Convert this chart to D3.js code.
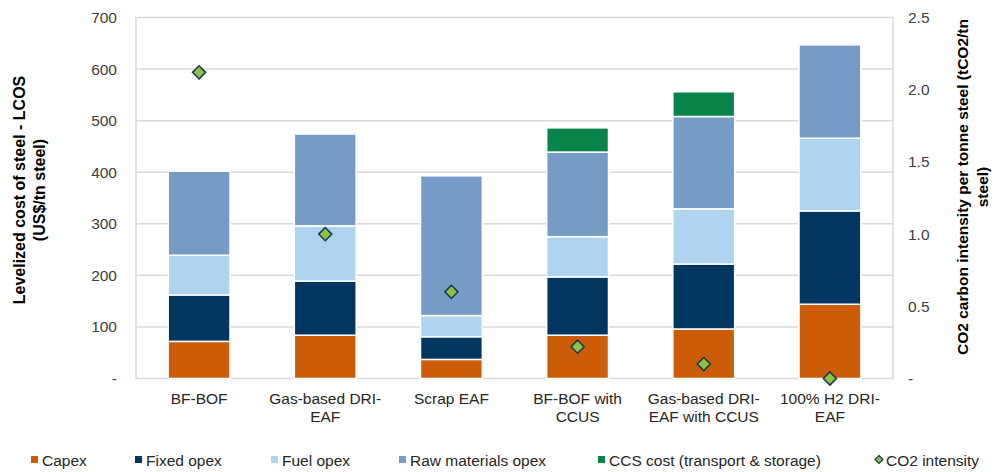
<!DOCTYPE html>
<html>
<head>
<meta charset="utf-8">
<script src="https://cdn.jsdelivr.net/npm/d3@7"></script>
<style>
  html, body { margin: 0; padding: 0; background: #fff; }
  svg { display: block; font-family: "Liberation Sans", Arial, sans-serif; }
</style>
</head>
<body>
<svg id="chart" width="1006" height="472"></svg>
<script>
// ---- data ----
const categories = [
  ["BF-BOF"],
  ["Gas-based DRI-", "EAF"],
  ["Scrap EAF"],
  ["BF-BOF with", "CCUS"],
  ["Gas-based DRI-", "EAF with CCUS"],
  ["100% H2 DRI-", "EAF"]
];
const capex        = [72, 84, 37, 84, 96, 144];
const fixedOpex    = [90, 105, 44, 113, 126, 181];
const fuelOpex     = [77, 107, 41, 78, 107, 141];
const rawMaterials = [163, 178, 271, 164, 179, 181];
const ccsCost      = [0, 0, 0, 47, 48, 0];
const co2Intensity = [2.12, 1.0, 0.6, 0.22, 0.1, 0.0];
const leftTicks  = [0, 100, 200, 300, 400, 500, 600, 700];
const rightTicks = [0, 0.5, 1.0, 1.5, 2.0, 2.5];
const seriesNames = ["Capex", "Fixed opex", "Fuel opex", "Raw materials opex", "CCS cost (transport & storage)"];
const seriesColors = ["#cc5c08", "#003660", "#aed4ef", "#769bc6", "#08844a"];
const co2Name = "CO2 intensity";

// ---- layout ----
const svg = d3.select("#chart");
const plot = { left: 136, right: 893, top: 17.5, bottom: 378.5 };

const x = d3.scaleBand()
  .domain(d3.range(categories.length))
  .range([plot.left, plot.right])
  .paddingInner(0.51)
  .paddingOuter(0.255);
const y = d3.scaleLinear().domain([0, 700]).range([plot.bottom, plot.top]);
const y2 = d3.scaleLinear().domain([0, 2.5]).range([plot.bottom, plot.top]);

const seriesArrays = [capex, fixedOpex, fuelOpex, rawMaterials, ccsCost];
const table = categories.map((c, i) => {
  const row = { i };
  seriesNames.forEach((n, k) => row[n] = seriesArrays[k][i]);
  return row;
});
const stacked = d3.stack().keys(seriesNames)(table);

// gridlines
svg.append("g")
  .selectAll("line")
  .data(leftTicks.slice(1, -1))
  .join("line")
  .attr("x1", plot.left).attr("x2", plot.right)
  .attr("y1", d => y(d)).attr("y2", d => y(d))
  .attr("stroke", "#d9d9d9").attr("stroke-width", 1.5);

// frame
svg.append("rect")
  .attr("x", plot.left).attr("y", plot.top)
  .attr("width", plot.right - plot.left).attr("height", plot.bottom - plot.top)
  .attr("fill", "none").attr("stroke", "#d9d9d9").attr("stroke-width", 1.5);

// bars
svg.append("g")
  .selectAll("g")
  .data(stacked)
  .join("g")
  .attr("fill", (d, k) => seriesColors[k])
  .selectAll("rect")
  .data(d => d.filter(s => s[1] - s[0] > 0))
  .join("rect")
  .attr("x", d => x(d.data.i))
  .attr("width", x.bandwidth())
  .attr("y", d => y(d[1]))
  .attr("height", d => y(d[0]) - y(d[1]))
  .attr("stroke", "#ffffff")
  .attr("stroke-width", 1.5);

// CO2 diamonds
const diamond = d3.symbol().type(d3.symbolDiamond2).size(110);
svg.append("g")
  .selectAll("path")
  .data(co2Intensity)
  .join("path")
  .attr("d", diamond)
  .attr("transform", (d, i) => `translate(${x(i) + x.bandwidth() / 2},${y2(d)})`)
  .attr("fill", "#8dc340")
  .attr("stroke", "#17375e")
  .attr("stroke-width", 1.5);

// left axis
const leftAxis = d3.axisLeft(y).tickValues(leftTicks).tickSize(0)
  .tickFormat(d => d === 0 ? "-" : d3.format("d")(d));
const la = svg.append("g").attr("transform", `translate(${plot.left - 19},0)`).call(leftAxis);
la.select(".domain").remove();
la.selectAll("text").attr("font-size", "15.5px").attr("fill", "#404040")
  .attr("font-family", "Liberation Sans, Arial, sans-serif").attr("x", 0);

// right axis
const rightAxis = d3.axisRight(y2).tickValues(rightTicks).tickSize(0)
  .tickFormat(d => d === 0 ? "-" : d3.format(".1f")(d));
const ra = svg.append("g").attr("transform", `translate(${plot.right + 15},0)`).call(rightAxis);
ra.select(".domain").remove();
ra.selectAll("text").attr("font-size", "15.5px").attr("fill", "#404040")
  .attr("font-family", "Liberation Sans, Arial, sans-serif").attr("x", 0);

// category labels
const catG = svg.append("g")
  .selectAll("text")
  .data(categories)
  .join("text")
  .attr("text-anchor", "middle")
  .attr("font-size", "15.5px")
  .attr("fill", "#262626")
  .attr("transform", (d, i) => `translate(${x(i) + x.bandwidth() / 2},404)`);
catG.selectAll("tspan")
  .data(d => d)
  .join("tspan")
  .attr("x", 0)
  .attr("y", (d, j) => j * 17.5)
  .text(d => d);

// axis titles
const lt = svg.append("text")
  .attr("transform", "translate(25,190) rotate(-90)")
  .attr("text-anchor", "middle")
  .attr("font-size", "16px").attr("font-weight", "bold").attr("fill", "#000");
lt.append("tspan").attr("x", 0).attr("y", 0).text("Levelized cost of steel - LCOS");
lt.append("tspan").attr("x", 0).attr("y", 20).text("(US$/tn steel)");

const rt = svg.append("text")
  .attr("transform", "translate(968,187) rotate(-90)")
  .attr("text-anchor", "middle")
  .attr("font-size", "15.5px").attr("font-weight", "bold").attr("fill", "#000");
rt.append("tspan").attr("x", 0).attr("y", 0).text("CO2 carbon intensity per tonne steel (tCO2/tn");
rt.append("tspan").attr("x", 0).attr("y", 20).text("steel)");

// legend
const legendX = [31, 135, 271, 399, 598];
const lg = svg.append("g");
seriesNames.forEach((n, k) => {
  lg.append("rect").attr("x", legendX[k]).attr("y", 456).attr("width", 7).attr("height", 7)
    .attr("fill", seriesColors[k]);
  lg.append("text").attr("x", legendX[k] + 11).attr("y", 465.5)
    .attr("font-size", "15.5px").attr("fill", "#262626").text(n);
});
lg.append("path")
  .attr("d", d3.symbol().type(d3.symbolDiamond2).size(40))
  .attr("transform", "translate(879,459.5)")
  .attr("fill", "#8dc340").attr("stroke", "#17375e").attr("stroke-width", 1.2);
lg.append("text").attr("x", 886).attr("y", 465.5)
  .attr("font-size", "15.5px").attr("fill", "#262626").text(co2Name);
</script>
</body>
</html>
